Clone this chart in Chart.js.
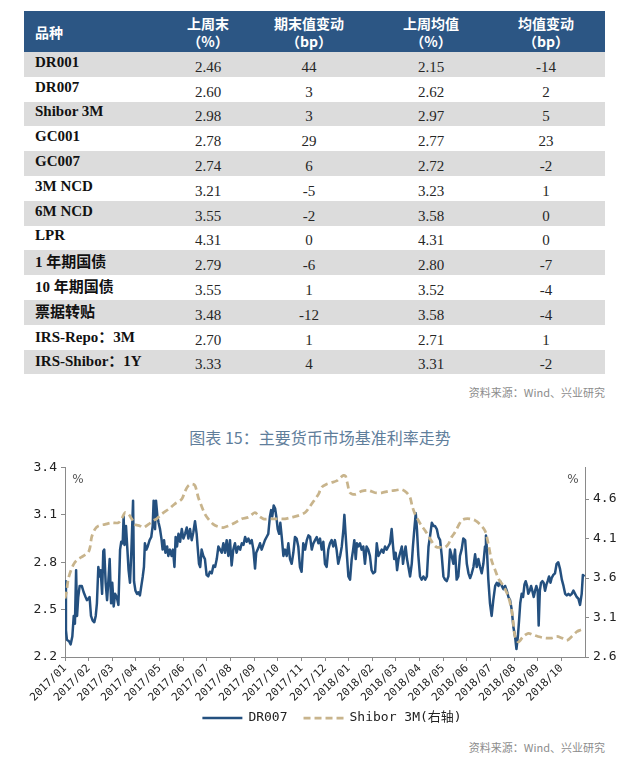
<!DOCTYPE html>
<html>
<head>
<meta charset="utf-8">
<script src="https://cdn.jsdelivr.net/npm/chart.js@4.4.0/dist/chart.umd.min.js"></script>
<style>
  body { margin: 0; background: #fff; }
  #page { position: relative; width: 640px; height: 758px; overflow: hidden; }
  #rates { position: absolute; left: 24px; top: 11px; width: 581px; border-collapse: collapse; table-layout: fixed; }
  #rates th { background: #2c5684; color: #fff; font: bold 14px "Noto Sans CJK SC", sans-serif; line-height: 18px; height: 41px; padding: 0; text-align: center; }
  #rates th.name { text-align: left; padding-left: 11px; }
  #rates td { height: 24.8px; padding: 0; text-align: center; font: 15px "Liberation Serif", "Noto Sans CJK SC", serif; color: #262626; }
  #rates tr.grey td { background: #dcdcdc; }
  #rates td.name { text-align: left; padding-left: 11px; font-weight: bold; color: #111; }
  #rates td span { position: relative; top: 3px; }
  #rates td.name span { top: -2px; }
  .source { position: absolute; right: 35px; font: 11px "Noto Sans CJK SC", sans-serif; color: #8c8c8c; }
  #title { position: absolute; left: 0; width: 640px; top: 425px; text-align: center; font: 16px "Noto Sans CJK SC", sans-serif; color: #5f7e9b; }
  #wrap { position: absolute; left: 0; top: 455px; width: 640px; height: 280px; }
</style>
</head>
<body>
<div id="page">
  <table id="rates">
    <colgroup><col style="width:149px"><col style="width:70px"><col style="width:132px"><col style="width:112px"><col style="width:118px"></colgroup>
    <thead>
      <tr>
        <th class="name">品种</th>
        <th>上周末<br>（%）</th>
        <th>期末值变动<br>（bp）</th>
        <th>上周均值<br>（%）</th>
        <th>均值变动<br>（bp）</th>
      </tr>
    </thead>
    <tbody id="rateRows"></tbody>
  </table>
  <div class="source" style="top:384px">资料来源：Wind、兴业研究</div>
  <div id="title">图表 15：主要货币市场基准利率走势</div>
  <div id="wrap"><canvas id="rateChart" width="640" height="280"></canvas></div>
  <div class="source" style="top:739px">资料来源：Wind、兴业研究</div>
</div>
<script>
// table
const products = ["DR001", "DR007", "Shibor 3M", "GC001", "GC007", "3M NCD", "6M NCD", "LPR", "1 年期国债", "10 年期国债", "票据转贴", "IRS-Repo：3M", "IRS-Shibor：1Y"];
const lastWeekEnd = [2.46, 2.60, 2.98, 2.78, 2.74, 3.21, 3.55, 4.31, 2.79, 3.55, 3.48, 2.70, 3.33];
const endChange = [44, 3, 3, 29, 6, -5, -2, 0, -6, 1, -12, 1, 4];
const lastWeekAvg = [2.15, 2.62, 2.97, 2.77, 2.72, 3.23, 3.58, 4.31, 2.80, 3.52, 3.58, 2.71, 3.31];
const avgChange = [-14, 2, 5, 23, -2, 1, 0, 0, -7, -4, -4, 1, -2];

// chart: x is months since 2017/01
const monthLabels = ["2017/01", "2017/02", "2017/03", "2017/04", "2017/05", "2017/06", "2017/07", "2017/08", "2017/09", "2017/10", "2017/11", "2017/12",
  "2018/01", "2018/02", "2018/03", "2018/04", "2018/05", "2018/06", "2018/07", "2018/08", "2018/09", "2018/10"];
const leftTicks = [2.2, 2.5, 2.8, 3.1, 3.4];
const rightTicks = [2.6, 3.1, 3.6, 4.1, 4.6];

const dr007Month = [
  0, 0.04, 0.08, 0.17, 0.24, 0.31, 0.37, 0.42, 0.47, 0.51, 0.56, 0.62, 0.71, 0.79, 0.87, 0.93, 0.99, 1.04, 1.10, 1.17,
  1.24, 1.30, 1.35, 1.41, 1.47, 1.51, 1.57, 1.62, 1.66, 1.72, 1.78, 1.83, 1.89, 1.95, 2.00, 2.06, 2.12, 2.19, 2.26, 2.33,
  2.38, 2.44, 2.48, 2.52, 2.58, 2.64, 2.69, 2.75, 2.81, 2.88, 2.92, 2.98, 3.05, 3.10, 3.17, 3.23, 3.29, 3.34, 3.38, 3.44,
  3.50, 3.58, 3.65, 3.71, 3.75, 3.81, 3.85, 3.91, 3.96, 4.02, 4.08, 4.13, 4.19, 4.25, 4.32, 4.37, 4.44, 4.51, 4.57, 4.63,
  4.68, 4.74, 4.80, 4.87, 4.94, 5.01,
  5.08, 5.15, 5.22, 5.29, 5.36, 5.43, 5.50, 5.57, 5.61, 5.67, 5.72, 5.78, 5.85, 5.92, 5.99, 6.06, 6.13, 6.21, 6.28, 6.35,
  6.42, 6.49, 6.56, 6.63, 6.70, 6.77, 6.84, 6.91, 6.98, 7.05, 7.12, 7.19, 7.26, 7.33, 7.41, 7.48, 7.55, 7.62, 7.69, 7.76,
  7.83, 7.90, 7.97, 8.04, 8.09, 8.18, 8.25, 8.32, 8.39, 8.46, 8.53, 8.60, 8.67, 8.72, 8.77, 8.83, 8.89, 8.94, 9.00, 9.06,
  9.11, 9.17, 9.24, 9.31, 9.38, 9.45, 9.52, 9.59, 9.66, 9.73, 9.80, 9.87, 9.94, 10.01, 10.08, 10.16, 10.23, 10.30, 10.37, 10.44,
  10.51,
  10.58, 10.65, 10.72, 10.79, 10.86, 10.93, 11.00, 11.07, 11.14, 11.21, 11.28, 11.35, 11.42, 11.49, 11.56, 11.64, 11.71, 11.78, 11.82, 11.87,
  11.93, 11.99, 12.06, 12.13, 12.19, 12.24, 12.30, 12.35, 12.41, 12.48, 12.55, 12.62, 12.69, 12.76, 12.83, 12.90, 12.97, 13.04, 13.12, 13.19,
  13.26, 13.33, 13.40, 13.47, 13.54, 13.61, 13.68, 13.75, 13.82, 13.88, 13.93, 13.99, 14.05, 14.11, 14.18, 14.25, 14.30, 14.36, 14.41, 14.47,
  14.53, 14.60, 14.67, 14.72, 14.78, 14.84, 14.89, 14.95, 15.02, 15.09, 15.16, 15.24, 15.31, 15.38, 15.44, 15.52, 15.59, 15.65, 15.73, 15.80,
  15.87, 15.94, 16.01,
  16.08, 16.15, 16.22, 16.29, 16.36, 16.43, 16.50, 16.57, 16.64, 16.71, 16.78, 16.85, 16.93, 17.00, 17.07, 17.14, 17.21, 17.28, 17.35, 17.42,
  17.49, 17.56, 17.63, 17.70, 17.77, 17.81, 17.85, 17.91, 17.98, 18.05, 18.12, 18.20, 18.27, 18.34, 18.41, 18.48, 18.55, 18.62, 18.69, 18.76,
  18.83, 18.90, 18.97, 19.04, 19.10, 19.16, 19.21, 19.26, 19.32, 19.38, 19.44, 19.49, 19.55, 19.60, 19.66, 19.72, 19.77, 19.83, 19.89, 19.94,
  20.00, 20.04, 20.09, 20.14, 20.20, 20.25, 20.31, 20.37, 20.42, 20.48, 20.54, 20.59, 20.66, 20.73, 20.80, 20.87, 20.94, 21.02, 21.09, 21.16,
  21.23, 21.30, 21.37, 21.44, 21.51, 21.58, 21.65, 21.72, 21.79, 21.86, 21.91, 21.98
];
const dr007Rate = [
  2.68, 2.37, 2.31, 2.30, 2.28, 2.33, 2.46, 2.41, 2.75, 2.46, 2.58, 2.65, 2.65, 2.61, 2.58, 2.56, 2.57, 2.58, 2.46, 2.43,
  2.42, 2.46, 2.54, 2.77, 2.71, 2.75, 2.60, 2.87, 2.88, 2.67, 2.56, 2.67, 2.82, 2.54, 2.67, 2.52, 2.60, 2.58, 2.53, 2.88,
  2.93, 2.92, 3.09, 2.91, 3.03, 2.88, 2.75, 2.67, 2.88, 3.19, 2.68, 2.62, 2.60, 2.61, 2.59, 2.65, 2.71, 2.77, 2.92, 2.88,
  2.90, 2.94, 2.96, 3.03, 3.19, 3.01, 3.19, 3.09, 3.05, 3.01, 2.95, 2.88, 2.94, 2.86, 2.90, 2.84, 2.88, 2.84, 2.88, 2.77,
  2.96, 2.90, 2.98, 2.93, 3.01, 2.95,
  2.98, 3.02, 2.95, 3.01, 2.94, 2.99, 3.06, 2.98, 2.90, 2.79, 2.77, 2.88, 2.84, 2.82, 2.72, 2.71, 2.74, 2.73, 2.78, 2.77,
  2.82, 2.90, 2.88, 2.86, 2.92, 2.86, 2.94, 2.84, 2.94, 2.78, 2.88, 2.92, 2.86, 2.90, 2.88, 2.92, 2.91, 2.96, 2.93, 2.95,
  2.92, 2.94, 2.88, 2.76, 2.86, 2.89, 2.92, 2.88, 2.91, 2.94, 2.96, 2.98, 3.09, 3.13, 3.09, 3.16, 3.14, 3.09, 3.01, 2.98,
  3.05, 2.96, 2.84, 2.88, 2.84, 2.92, 2.82, 2.79, 2.86, 2.96, 2.95, 2.90, 2.77, 2.74, 2.92, 2.88, 2.94, 2.97, 2.96, 2.88,
  2.92,
  2.94, 2.96, 2.92, 2.95, 2.88, 2.93, 2.79, 2.77, 2.88, 2.92, 2.94, 2.90, 2.94, 2.88, 2.79, 2.84, 2.90, 3.01, 3.10, 2.98,
  2.84, 2.71, 2.69, 2.82, 2.88, 2.94, 2.82, 2.92, 2.90, 2.92, 2.88, 2.90, 2.79, 2.90, 2.88, 2.84, 2.75, 2.73, 2.74, 2.92,
  2.84, 2.86, 2.88, 2.86, 2.90, 2.88, 2.90, 2.92, 3.01, 2.90, 2.82, 2.86, 2.75, 2.82, 2.86, 2.90, 2.79, 2.86, 2.90, 2.82,
  2.77, 2.71, 2.79, 2.90, 3.01, 3.11, 3.01, 2.84, 2.71, 2.69, 2.71, 2.69, 2.71, 2.90, 2.96, 3.05, 3.03, 3.03, 3.01, 2.96,
  2.94, 2.84, 2.71,
  2.69, 2.68, 2.71, 2.88, 2.84, 2.79, 2.88, 2.69, 2.71, 2.84, 2.88, 2.95, 2.94, 2.79, 2.73, 2.70, 2.73, 2.77, 2.85, 2.77,
  2.82, 2.77, 2.73, 2.79, 2.90, 2.97, 2.88, 2.69, 2.54, 2.46, 2.56, 2.65, 2.67, 2.65, 2.68, 2.65, 2.63, 2.65, 2.62, 2.58,
  2.56, 2.50, 2.39, 2.33, 2.25, 2.33, 2.43, 2.54, 2.60, 2.58, 2.66, 2.68, 2.65, 2.60, 2.62, 2.65, 2.62, 2.58, 2.62, 2.65,
  2.62, 2.40, 2.62, 2.67, 2.68, 2.67, 2.62, 2.66, 2.68, 2.71, 2.67, 2.70, 2.72, 2.73, 2.79, 2.80, 2.76, 2.69, 2.65, 2.60,
  2.59, 2.60, 2.59, 2.60, 2.62, 2.60, 2.58, 2.57, 2.53, 2.60, 2.72, 2.71
];

const shiborMonth = [
  0, 0.07, 0.14, 0.28, 0.42, 0.56, 0.78, 0.99, 1.06, 1.13, 1.27, 1.41, 1.69, 1.97, 2.26, 2.40, 2.54, 2.68, 2.82, 2.96,
  3.17, 3.31, 3.53, 3.74, 3.88, 4.09, 4.37, 4.65, 4.94, 5.08, 5.22, 5.36, 5.50, 5.64, 5.78, 5.92, 6.06, 6.28, 6.49, 6.70,
  6.91, 7.19, 7.48, 7.76, 8.04, 8.18, 8.39, 8.67, 8.89, 9.10, 9.31, 9.59, 9.87, 10.16, 10.37, 10.58, 10.72, 10.86, 11.07, 11.28,
  11.49, 11.64, 11.78, 11.87, 11.94, 12.06, 12.27, 12.55, 12.83, 13.12, 13.40, 13.68, 13.96, 14.25, 14.46, 14.60, 14.69, 14.81, 14.95, 15.09,
  15.24, 15.44, 15.59, 15.73, 15.94, 16.08, 16.22, 16.36, 16.50, 16.64, 16.78, 16.93, 17.14, 17.35, 17.56, 17.77, 17.91, 18.05, 18.20, 18.34,
  18.48, 18.62, 18.76, 18.90, 18.97, 19.04, 19.18, 19.39, 19.60, 19.81, 20.01, 20.31, 20.59, 20.80, 21.02, 21.23, 21.44, 21.65, 21.79, 21.98
];
const shiborRate = [
  3.34, 3.44, 3.59, 3.72, 3.80, 3.84, 3.88, 3.93, 3.99, 4.12, 4.22, 4.26, 4.28, 4.30, 4.30, 4.35, 4.43, 4.41, 4.35, 4.28,
  4.26, 4.24, 4.28, 4.33, 4.35, 4.41, 4.47, 4.54, 4.60, 4.70, 4.77, 4.79, 4.77, 4.62, 4.51, 4.41, 4.35, 4.28, 4.25, 4.24,
  4.26, 4.30, 4.35, 4.37, 4.43, 4.39, 4.35, 4.35, 4.35, 4.35, 4.35, 4.37, 4.39, 4.43, 4.51, 4.60, 4.66, 4.75, 4.79, 4.81,
  4.83, 4.87, 4.90, 4.89, 4.81, 4.68, 4.66, 4.70, 4.71, 4.68, 4.68, 4.70, 4.71, 4.72, 4.68, 4.62, 4.51, 4.41, 4.33, 4.26,
  4.20, 4.10, 4.03, 3.99, 3.99, 3.99, 4.03, 4.12, 4.18, 4.26, 4.33, 4.35, 4.35, 4.33, 4.28, 4.20, 4.03, 3.82, 3.70, 3.59,
  3.53, 3.46, 3.36, 3.19, 3.02, 2.86, 2.79, 2.86, 2.90, 2.88, 2.86, 2.84, 2.84, 2.86, 2.84, 2.81, 2.86, 2.92, 2.94, 2.96
];

const tbody = document.getElementById("rateRows");
products.forEach((name, i) => {
  const tr = document.createElement("tr");
  if (i % 2 === 0) tr.className = "grey";
  const cells = [name, lastWeekEnd[i].toFixed(2), String(endChange[i]), lastWeekAvg[i].toFixed(2), String(avgChange[i])];
  cells.forEach((txt, j) => {
    const td = document.createElement("td");
    if (j === 0) td.className = "name";
    const span = document.createElement("span");
    span.textContent = txt;
    td.appendChild(span);
    tr.appendChild(td);
  });
  tbody.appendChild(tr);
});

// "%" unit marks inside the plot corners
const percentMarks = {
  id: "percentMarks",
  afterDraw(chart) {
    const { ctx, chartArea } = chart;
    ctx.save();
    ctx.font = '12px "DejaVu Sans"';
    ctx.fillStyle = "#555";
    ctx.textAlign = "center";
    ctx.textBaseline = "middle";
    ctx.fillText("%", chartArea.left + 13, chartArea.top + 12);
    ctx.fillText("%", chartArea.right - 12, chartArea.top + 12);
    ctx.restore();
  }
};

// legend drawn by hand so the dashed sample keeps its dashes
const lineLegend = {
  id: "lineLegend",
  afterDraw(chart) {
    const { ctx } = chart;
    const y = chart.height - 17;
    const sample = 40, gap = 6, itemGap = 16;
    ctx.save();
    ctx.font = '13px "DejaVu Sans Mono", "Noto Sans CJK SC"';
    const items = chart.data.datasets.map(ds => ({ ds, w: sample + gap + ctx.measureText(ds.label).width }));
    const total = items.reduce((a, it) => a + it.w, 0) + itemGap * (items.length - 1);
    let x = 332 - total / 2;
    items.forEach(({ ds, w }) => {
      ctx.beginPath();
      ctx.setLineDash(ds.borderDash || []);
      ctx.strokeStyle = ds.borderColor;
      ctx.lineWidth = ds.borderWidth;
      ctx.moveTo(x, y);
      ctx.lineTo(x + sample, y);
      ctx.stroke();
      ctx.setLineDash([]);
      ctx.fillStyle = "#222";
      ctx.textAlign = "left";
      ctx.textBaseline = "middle";
      ctx.fillText(ds.label, x + sample + gap, y);
      x += w + itemGap;
    });
    ctx.restore();
  }
};

const axisFont = { family: '"DejaVu Sans Mono", "Noto Sans CJK SC"', size: 13 };

new Chart(document.getElementById("rateChart"), {
  type: "line",
  data: {
    datasets: [
      {
        label: "DR007",
        data: dr007Month.map((m, i) => ({ x: m, y: dr007Rate[i] })),
        borderColor: "#24507f",
        backgroundColor: "#24507f",
        borderWidth: 2.5,
        borderJoinStyle: "round",
        pointRadius: 0,
        tension: 0,
        yAxisID: "y",
        order: 1
      },
      {
        label: "Shibor 3M(右轴)",
        data: shiborMonth.map((m, i) => ({ x: m, y: shiborRate[i] })),
        borderColor: "#c8b48c",
        backgroundColor: "#c8b48c",
        borderWidth: 2.75,
        borderDash: [7, 4],
        pointRadius: 0,
        tension: 0.3,
        yAxisID: "y2",
        order: 0
      }
    ]
  },
  options: {
    responsive: false,
    animation: false,
    layout: { padding: { top: 12.5, left: 0, right: 0, bottom: 33 } },
    scales: {
      x: {
        type: "linear",
        min: 0,
        max: 22,
        afterBuildTicks: s => { s.ticks = monthLabels.map((_, i) => ({ value: i })); },
        afterFit: s => { s.height = 45; },
        ticks: {
          autoSkip: false,
          minRotation: 45,
          maxRotation: 45,
          padding: 1,
          color: "#222",
          font: { family: '"DejaVu Sans Mono"', size: 11 },
          callback: v => monthLabels[v] || ""
        },
        grid: { drawOnChartArea: false, tickLength: 4, color: "#8a8a8a" },
        border: { color: "#8a8a8a" }
      },
      y: {
        position: "left",
        min: 2.2,
        max: 3.4,
        afterBuildTicks: s => { s.ticks = leftTicks.map(v => ({ value: v })); },
        afterFit: s => { s.width = 65; },
        ticks: { color: "#222", font: axisFont, padding: 4, callback: v => v.toFixed(1) },
        grid: { drawOnChartArea: false, tickLength: 4, color: "#8a8a8a" },
        border: { color: "#8a8a8a" }
      },
      y2: {
        position: "right",
        min: 2.6,
        max: 5.0,
        afterBuildTicks: s => { s.ticks = rightTicks.map(v => ({ value: v })); },
        afterFit: s => { s.width = 55; },
        ticks: { color: "#222", font: axisFont, padding: 4, callback: v => v.toFixed(1) },
        grid: { drawOnChartArea: false, tickLength: 4, color: "#8a8a8a" },
        border: { color: "#8a8a8a" }
      }
    },
    plugins: {
      legend: { display: false },
      tooltip: { enabled: false }
    }
  },
  plugins: [percentMarks, lineLegend]
});
</script>
</body>
</html>
